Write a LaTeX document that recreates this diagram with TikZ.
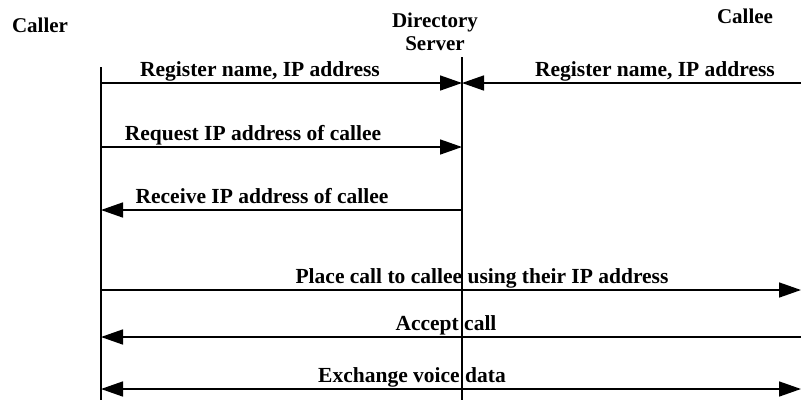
\documentclass[tikz,border=0pt]{standalone}
\usepackage{fontspec}
\setmainfont{Liberation Serif}
\usetikzlibrary{arrows.meta}
\begin{document}
\begin{tikzpicture}[x=1pt,y=-1pt,
  msg/.style={line width=1.6pt},
  tip/.tip={Triangle[length=22pt,width=15pt]},
  head/.style={-tip},
  lifeline/.style={line width=1.6pt},
  lbl/.style={font=\bfseries\fontsize{21.5}{22}\selectfont, inner sep=0pt, anchor=base},
  actor/.style={font=\bfseries\fontsize{21}{23}\selectfont, align=center, inner sep=0pt}]
\useasboundingbox (0,0) rectangle (801,400);

% participants
\node[actor] (caller) at (40,25) {Caller};
\node[actor] (server) at (435,32) {Directory\\Server};
\node[actor] (callee) at (745,16) {Callee};

% lifelines
\coordinate (c0) at (101,67);  \coordinate (c1) at (101,400);
\coordinate (s0) at (462,57);  \coordinate (s1) at (462,400);
\draw[lifeline] (c0) -- (c1);
\draw[lifeline] (s0) -- (s1);

% anchor points on the lifelines and the right edge
\coordinate (cA) at (101,83);  \coordinate (sA) at (462,83);  \coordinate (rA) at (801,83);
\coordinate (cB) at (101,147); \coordinate (sB) at (462,147);
\coordinate (cC) at (101,210); \coordinate (sC) at (462,210);
\coordinate (cD) at (101,290); \coordinate (rD) at (801,290);
\coordinate (cE) at (101,337); \coordinate (rE) at (801,337);
\coordinate (cF) at (101,389); \coordinate (rF) at (801,389);

% messages
\draw[msg,head] (cA) -- (sA);
\draw[msg,head] (rA) -- (sA);
\draw[msg,head] (cB) -- (sB);
\draw[msg,head] (sC) -- (cC);
\draw[msg,head] (cD) -- (rD);
\draw[msg,head] (rE) -- (cE);
\draw[msg,tip-tip] (cF) -- (rF);

% labels
\node[lbl] (l1) at (260,76) {Register name, IP address};
\node[lbl] (l2) at (655,76) {Register name, IP address};
\node[lbl] (l3) at (253,140) {Request IP address of callee};
\node[lbl] (l4) at (262,203) {Receive IP address of callee};
\node[lbl] (l5) at (482,283) {Place call to callee using their IP address};
\node[lbl] (l6) at (446,330) {Accept call};
\node[lbl] (l7) at (412,382) {Exchange voice data};
\end{tikzpicture}
\end{document}
